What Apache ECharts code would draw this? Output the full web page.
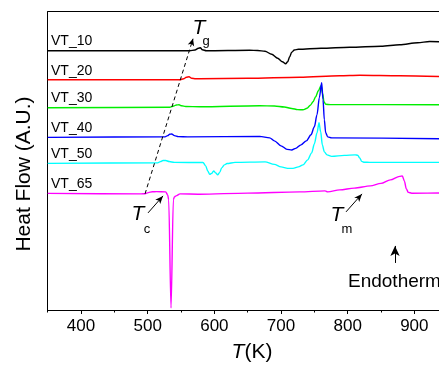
<!DOCTYPE html>
<html><head><meta charset="utf-8">
<script src="https://cdn.jsdelivr.net/npm/echarts@6/dist/echarts.min.js"></script>
<style>html,body{margin:0;padding:0;background:#fff}#c{width:439px;height:366px}</style>
</head><body><div id="c"></div>
<script>
const names = ['VT_10','VT_20','VT_30','VT_40','VT_50','VT_65'];
const colors = ['#000000','#ff0000','#00ee00','#0000ff','#00ffff','#ff00ff'];
// [T (K), heat flow (a.u., offset traces)]
const vt10 = [[350,259],[563,259],[571,259.8],[576,261.5],[579,262],[582,260],[588,259],[653,259.5],[665,259.3],[676,258.5],[686,255.5],[695,251.5],[702,248],[707,246],[710,248],[713,253],[716,257.5],[720,259.8],[726,260.5],[760,261.5],[803,262.5],[850,263.5],[878,265],[905,267],[923,268.3],[950,267.5]];
const vt20 = [[350,230],[548,230],[554,231],[558,232.5],[562,233],[566,231.5],[572,231],[578,231],[650,231.5],[728,232.5],[788,234],[818,234.5],[878,234],[950,233]];
const vt30 = [[350,202],[533,202.5],[539,203.8],[543,204.8],[547,205],[551,204],[557,203.3],[578,203],[668,204],[690,203.8],[705,202.8],[716,201.3],[725,200.2],[733,200],[739,201.5],[744,204.5],[748,208],[752,213],[756,219],[760,224],[762.5,216],[764.5,208],[767,205.5],[774,205.2],[950,205]];
const vt40 = [[350,172.5],[526,173],[530,174.2],[533,175.5],[536,175.8],[540,174.2],[546,173.2],[560,173],[668,173.5],[683,172],[690,169],[700,164],[709,160.5],[716,159.8],[722,161.5],[730,165],[738,169],[745,175],[750,183],[754,195],[757.5,212],[761,227],[763,210],[765,190],[767,177],[770,173],[776,172],[950,171]];
const vt50 = [[350,146.5],[515,147],[519,148.2],[523,149.3],[527,149.4],[532,148.3],[540,147.5],[583,147.3],[587,144],[590,139],[593,135.5],[596,136.5],[599,139],[602,137],[605,135],[608,137.5],[611,142],[615,145],[619,146.3],[631,147.5],[676,148],[690,145.5],[700,143],[710,141.5],[718,141.5],[726,143],[733,145],[740,150],[746,157],[750,166],[754,177],[757,187],[759.5,178],[762,165],[765,158],[769,155],[776,153.5],[795,154.5],[811,155],[815,154.6],[818,152],[821,148.5],[825,147.6],[833,147.5],[950,147.5]];
const vt65 = [[350,116.5],[490,116],[496,116.2],[501,117.3],[507,118.1],[513,118.3],[527,118],[530,115],[531.5,110],[535,2],[538.5,110],[540,113],[542.5,114],[548.5,116],[578,115.7],[650,116.8],[728,118],[766,119],[770,118],[788,120],[810,121.8],[834,124],[850,126.5],[864,130],[878,133.5],[882,134],[885,129],[888,121],[891,117.5],[896,116.7],[950,117]];
const seriesData = [vt10, vt20, vt30, vt40, vt50, vt65];
const majorTicks = [400,500,600,700,800,900];
const minorTicks = [350,450,550,650,750,850];

const FONT = '"Liberation Sans", Arial, Helvetica, sans-serif';
const chart = echarts.init(document.getElementById('c'), null, {renderer:'canvas'});

const series = seriesData.map((d,i)=>({
  name: names[i], type:'line', data:d, showSymbol:false, smooth:0.3, smoothMonotone:'x',
  lineStyle:{color:colors[i], width:1.4}, itemStyle:{color:colors[i]},
  silent:true, animation:false, z:3, clip:true
}));

const arrowStyle = {color:'#000', width:1, type:'solid'};
series.push({
  type:'line', data:[], silent:true, animation:false,
  markLine:{
    silent:true, animation:false, label:{show:false}, emphasis:{disabled:true},
    symbol:['none','arrow'], symbolSize:[5,8],
    lineStyle:{color:'#000', width:1, type:'solid'},
    data:[
      [{coord:[496,116], lineStyle:{color:'#000', width:1, type:[4,3]}, symbol:'none'}, {coord:[568,271], symbol:'arrow', symbolSize:[5,7]}],
      [{coord:[500.5,97], lineStyle:arrowStyle, symbol:'none'}, {coord:[523,114], symbol:'arrow', symbolSize:[5,8]}],
      [{coord:[797.5,98], lineStyle:arrowStyle, symbol:'none'}, {coord:[821.5,116], symbol:'arrow', symbolSize:[5,8]}],
      [{coord:[871,47], lineStyle:arrowStyle, symbol:'none'}, {coord:[871,64], symbol:'arrow', symbolSize:[7,10]}]
    ]
  }
});

const labelY = [42,72,99,129,155,185];
const graphics = names.map((n,i)=>({
  type:'text', left:51, top:labelY[i]-8, silent:true,
  style:{text:n, font:'14px '+FONT, fill:'#000'}
}));
function txt(x,y,t,size,italic,align){
  return {type:'text', x:x, y:y, silent:true, style:{text:t, font:(italic?'italic ':'')+size+'px '+FONT, fill:'#000', textAlign:align||'center', textVerticalAlign:'middle'}};
}
graphics.push(txt(199,28,'T',21,true));
graphics.push(txt(206,41,'g',13,false));
graphics.push(txt(138,214,'T',21,true));
graphics.push(txt(147,229,'c',13,false));
graphics.push(txt(337,215,'T',21,true));
graphics.push(txt(347,229,'m',13,false));
graphics.push(txt(348,282,'Endotherm',19,false,'left'));
graphics.push({type:'text', x:252, y:352, silent:true, style:{
  text:'{i|T}(K)', font:'21px '+FONT, fill:'#000', textAlign:'center', textVerticalAlign:'middle',
  rich:{i:{fontStyle:'italic', fontSize:21, fontFamily:FONT}}
}});
graphics.push({type:'text', x:24, y:174, rotation:Math.PI/2, silent:true, style:{
  text:'Heat Flow (A.U.)', font:'21px '+FONT, fill:'#000', textAlign:'center', textVerticalAlign:'middle'
}});

chart.setOption({
  animation:false,
  backgroundColor:'#fff',
  grid:{left:47.7, top:11.7, bottom:56, right:0, show:false},
  xAxis:[{
    type:'value', min:350, max:937, position:'bottom',
    axisLine:{show:true, lineStyle:{color:'#000', width:1}},
    axisTick:{show:true, length:4, inside:false, customValues:majorTicks, lineStyle:{color:'#000'}},
    axisLabel:{show:true, customValues:majorTicks, color:'#000', fontSize:17, fontFamily:FONT, margin:8},
    splitLine:{show:false}
  },{
    type:'value', min:350, max:937, position:'bottom', gridIndex:0,
    axisLine:{show:false},
    axisTick:{show:true, length:2.5, customValues:minorTicks, lineStyle:{color:'#000'}},
    axisLabel:{show:false}, splitLine:{show:false}
  },{
    type:'value', min:350, max:937, position:'top', gridIndex:0,
    axisLine:{show:true, lineStyle:{color:'#000', width:1}},
    axisTick:{show:false}, axisLabel:{show:false}, splitLine:{show:false}
  }],
  yAxis:{type:'value', min:0, max:298,
    axisLine:{show:true, lineStyle:{color:'#000', width:1}},
    axisTick:{show:false}, axisLabel:{show:false}, splitLine:{show:false}},
  series: series,
  graphic: graphics
});
</script></body></html>
